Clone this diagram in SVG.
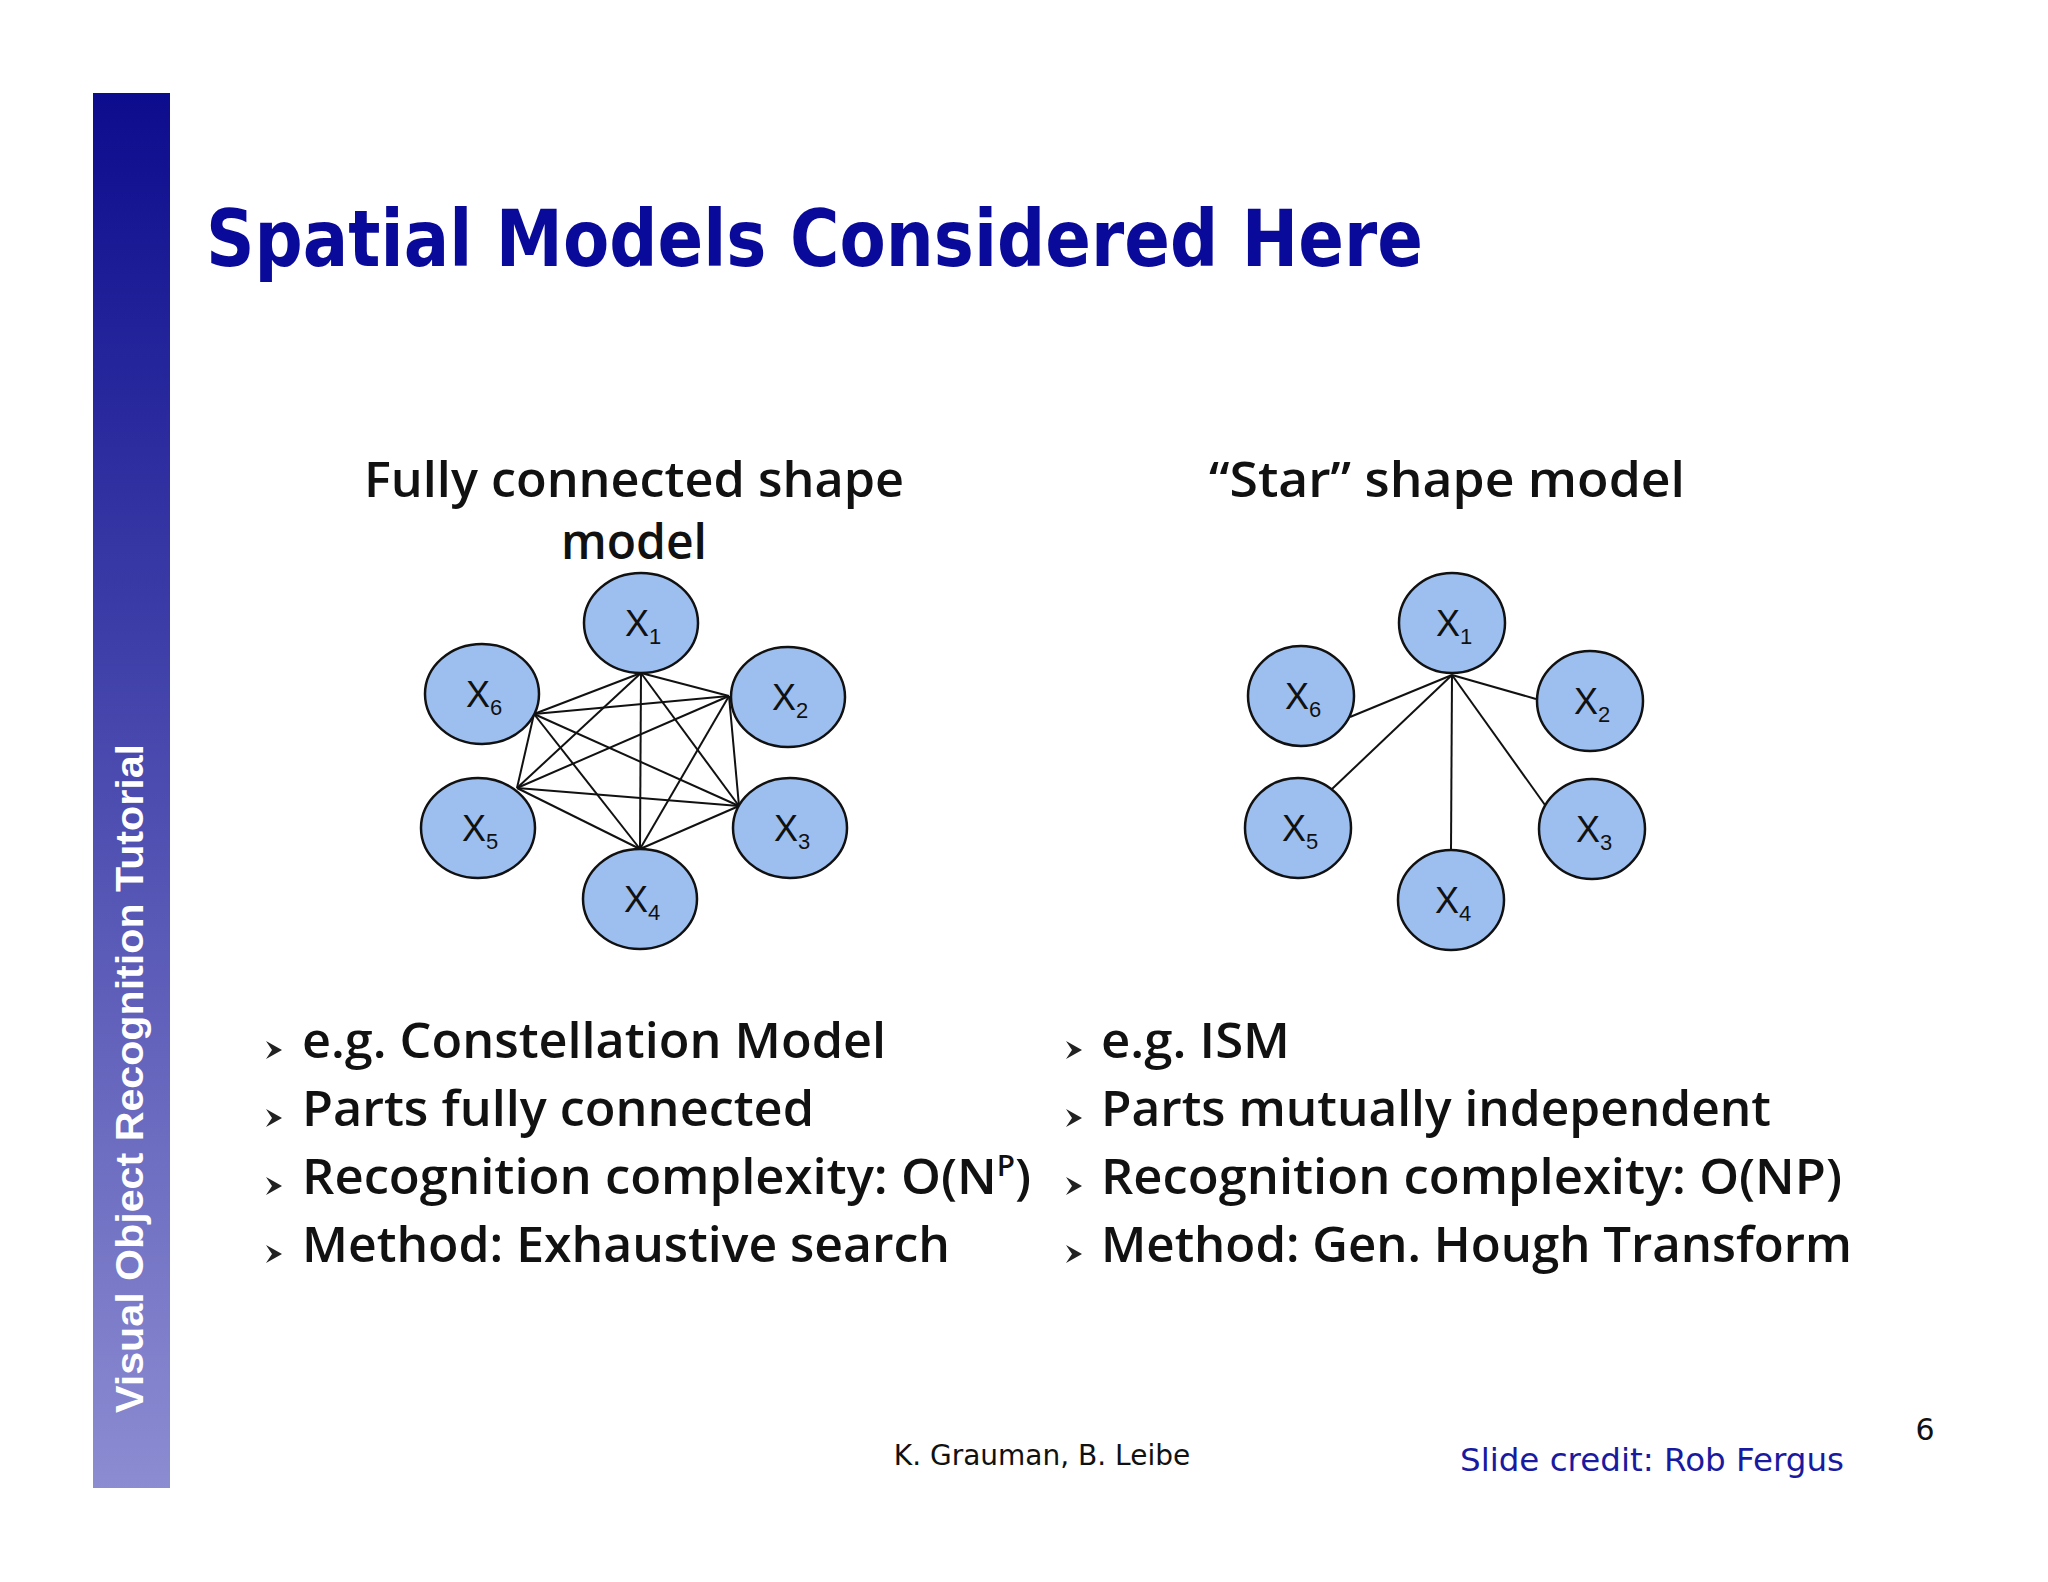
<svg xmlns="http://www.w3.org/2000/svg" width="2048" height="1582" viewBox="0 0 2048 1582">
<defs>
<linearGradient id="sb" x1="0" y1="0" x2="0" y2="1"><stop offset="0" stop-color="#0c0c8e"/><stop offset="1" stop-color="#8c8cd2"/></linearGradient>
<polygon id="bul" points="-2,-9 14,0 -2,9 4,0" fill="#222"/>
</defs>
<style>
.n ellipse{fill:#9dbff0;stroke:#111;stroke-width:2.5}
.n text{font-family:"Liberation Sans",Arial,sans-serif;font-size:36px;fill:#111}
.n tspan{font-size:22px}
.e line{stroke:#111;stroke-width:2}
.h{font-family:"DejaVu Sans",Verdana,sans-serif;font-weight:bold}
.s{font-family:"Open Sans","DejaVu Sans",sans-serif;font-weight:600;font-size:48px;fill:#111}
.b{font-family:"Open Sans","DejaVu Sans",sans-serif;font-weight:600;font-size:48px;fill:#111}
</style>
<rect width="2048" height="1582" fill="#fff"/>
<rect x="93" y="93" width="77" height="1395" fill="url(#sb)"/>
<text transform="translate(143,1413) rotate(-90)" font-family="Liberation Sans,Arial,sans-serif" font-weight="bold" font-size="38" fill="#fff" textLength="669" lengthAdjust="spacingAndGlyphs">Visual Object Recognition Tutorial</text>
<text x="206" y="266" class="h" font-size="78" fill="#0a0a9a" textLength="1217" lengthAdjust="spacingAndGlyphs">Spatial Models Considered Here</text>
<text x="634" y="497" class="s" text-anchor="middle" textLength="540" lengthAdjust="spacingAndGlyphs">Fully connected shape</text>
<text x="634" y="559" class="s" text-anchor="middle">model</text>
<text x="1447" y="497" class="s" text-anchor="middle" textLength="476" lengthAdjust="spacingAndGlyphs">“Star” shape model</text>
<g class="e" id="connectors">
<line x1="641" y1="673" x2="534" y2="714"/><line x1="641" y1="673" x2="729" y2="696"/><line x1="641" y1="673" x2="517" y2="788"/><line x1="641" y1="673" x2="739" y2="806"/><line x1="641" y1="673" x2="640" y2="849"/>
<line x1="534" y1="714" x2="729" y2="696"/><line x1="534" y1="714" x2="517" y2="788"/><line x1="534" y1="714" x2="739" y2="806"/><line x1="534" y1="714" x2="640" y2="849"/>
<line x1="729" y1="696" x2="517" y2="788"/><line x1="729" y1="696" x2="739" y2="806"/><line x1="729" y1="696" x2="640" y2="849"/>
<line x1="517" y1="788" x2="739" y2="806"/><line x1="517" y1="788" x2="640" y2="849"/><line x1="739" y1="806" x2="640" y2="849"/>
<line x1="1452" y1="675" x2="1350" y2="717"/><line x1="1452" y1="675" x2="1536" y2="699"/><line x1="1452" y1="675" x2="1332" y2="789"/><line x1="1452" y1="675" x2="1545" y2="805"/><line x1="1452" y1="675" x2="1451" y2="850"/>
</g>
<g class="n" id="L1"><ellipse cx="641" cy="623" rx="57" ry="50"/><text x="625" y="636">X<tspan dy="8">1</tspan></text></g>
<g class="n" id="L2"><ellipse cx="788" cy="697" rx="57" ry="50"/><text x="772" y="710">X<tspan dy="8">2</tspan></text></g>
<g class="n" id="L3"><ellipse cx="790" cy="828" rx="57" ry="50"/><text x="774" y="841">X<tspan dy="8">3</tspan></text></g>
<g class="n" id="L4"><ellipse cx="640" cy="899" rx="57" ry="50"/><text x="624" y="912">X<tspan dy="8">4</tspan></text></g>
<g class="n" id="L5"><ellipse cx="478" cy="828" rx="57" ry="50"/><text x="462" y="841">X<tspan dy="8">5</tspan></text></g>
<g class="n" id="L6"><ellipse cx="482" cy="694" rx="57" ry="50"/><text x="466" y="707">X<tspan dy="8">6</tspan></text></g>
<g class="n" id="R1"><ellipse cx="1452" cy="623" rx="53" ry="50"/><text x="1436" y="636">X<tspan dy="8">1</tspan></text></g>
<g class="n" id="R2"><ellipse cx="1590" cy="701" rx="53" ry="50"/><text x="1574" y="714">X<tspan dy="8">2</tspan></text></g>
<g class="n" id="R3"><ellipse cx="1592" cy="829" rx="53" ry="50"/><text x="1576" y="842">X<tspan dy="8">3</tspan></text></g>
<g class="n" id="R4"><ellipse cx="1451" cy="900" rx="53" ry="50"/><text x="1435" y="913">X<tspan dy="8">4</tspan></text></g>
<g class="n" id="R5"><ellipse cx="1298" cy="828" rx="53" ry="50"/><text x="1282" y="841">X<tspan dy="8">5</tspan></text></g>
<g class="n" id="R6"><ellipse cx="1301" cy="696" rx="53" ry="50"/><text x="1285" y="709">X<tspan dy="8">6</tspan></text></g>
<g id="bullets">
<use href="#bul" x="268" y="1050"/><use href="#bul" x="268" y="1118"/><use href="#bul" x="268" y="1186"/><use href="#bul" x="268" y="1254"/>
<use href="#bul" x="1068" y="1050"/><use href="#bul" x="1068" y="1118"/><use href="#bul" x="1068" y="1186"/><use href="#bul" x="1068" y="1254"/>
<text class="b" x="302" y="1058" textLength="584" lengthAdjust="spacingAndGlyphs">e.g. Constellation Model</text>
<text class="b" x="302" y="1126" textLength="512" lengthAdjust="spacingAndGlyphs">Parts fully connected</text>
<text class="b" x="302" y="1194" textLength="729" lengthAdjust="spacingAndGlyphs">Recognition complexity: O(N<tspan font-size="28" dy="-18">P</tspan><tspan dy="18">)</tspan></text>
<text class="b" x="302" y="1262" textLength="648" lengthAdjust="spacingAndGlyphs">Method: Exhaustive search</text>
<text class="b" x="1101" y="1058" textLength="189" lengthAdjust="spacingAndGlyphs">e.g. ISM</text>
<text class="b" x="1101" y="1126" textLength="670" lengthAdjust="spacingAndGlyphs">Parts mutually independent</text>
<text class="b" x="1101" y="1194" textLength="741" lengthAdjust="spacingAndGlyphs">Recognition complexity: O(NP)</text>
<text class="b" x="1101" y="1262" textLength="751" lengthAdjust="spacingAndGlyphs">Method: Gen. Hough Transform</text>
</g>
<text x="1042" y="1465" text-anchor="middle" font-family="DejaVu Sans,Verdana,sans-serif" font-size="28" fill="#111">K. Grauman, B. Leibe</text>
<text x="1460" y="1471" font-family="DejaVu Sans,Verdana,sans-serif" font-size="32" fill="#1a1aa0" textLength="384" lengthAdjust="spacingAndGlyphs">Slide credit: Rob Fergus</text>
<text x="1925" y="1440" text-anchor="middle" font-family="DejaVu Sans,Verdana,sans-serif" font-size="30" fill="#111">6</text>
</svg>
